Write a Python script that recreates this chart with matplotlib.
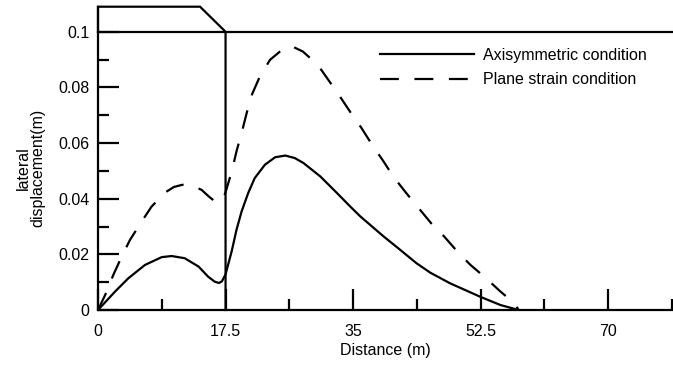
import matplotlib
matplotlib.use("Agg")
import matplotlib.pyplot as plt
from matplotlib.ticker import MultipleLocator

plt.rcParams['font.family'] = ['Liberation Sans', 'DejaVu Sans']

# Axisymmetric condition (solid)
axi_x = [0, 2.33, 4.16, 6.45, 8.74, 10.1, 11.9, 13.8, 15.1, 16.0, 16.6, 17.0, 17.5, 18.35, 19.0, 19.7, 20.6, 21.5, 22.9, 24.3, 25.7, 27.0, 28.2, 30.5, 32.8, 34.6, 36.0, 39.2, 41.0, 43.7, 45.6, 48.3, 52.4, 55.2, 57.7]
axi_y = [0, 0.0066, 0.0114, 0.0162, 0.0190, 0.0194, 0.0186, 0.0156, 0.0120, 0.0102, 0.0097, 0.0103, 0.0128, 0.0212, 0.0288, 0.0354, 0.0420, 0.0474, 0.0522, 0.0549, 0.0555, 0.0546, 0.0528, 0.0480, 0.0420, 0.0372, 0.0336, 0.0264, 0.0226, 0.0168, 0.0134, 0.0096, 0.0048, 0.0018, 0]

# Plane strain condition (dashed)
ps_x = [0, 1.0, 2.1, 3.25, 4.39, 5.99, 7.36, 9.2, 10.4, 11.57, 12.9, 14.2, 15.2, 16.05, 16.7, 17.2, 17.6, 18.35, 19.0, 19.7, 20.4, 21.1, 22.2, 23.6, 25.7, 26.9, 28.1, 30.15, 31.6, 33.2, 34.7, 36.1, 37.6, 39.2, 40.5, 42.3, 44.0, 45.7, 47.5, 49.3, 51.1, 53.25, 55.1, 57.2, 57.7]
ps_y = [0, 0.0055, 0.0126, 0.0192, 0.0252, 0.0318, 0.0372, 0.0422, 0.0442, 0.0450, 0.0447, 0.0432, 0.0408, 0.0390, 0.0389, 0.0400, 0.0432, 0.0498, 0.0570, 0.0636, 0.0708, 0.0773, 0.0839, 0.0899, 0.0945, 0.0944, 0.0929, 0.0881, 0.0827, 0.0767, 0.0708, 0.0656, 0.0594, 0.0533, 0.0480, 0.0420, 0.0366, 0.0312, 0.0264, 0.0210, 0.0162, 0.0114, 0.0069, 0.0022, 0]

# Embankment / ground outline
emb_x = [0, 0, 14, 17.5, 17.5]
emb_y = [0.1, 0.109, 0.109, 0.1, 0]
ground_x = [0, 78.75]
ground_y = [0.1, 0.1]

xticks = [0, 17.5, 35, 52.5, 70]
xticklabels = ['0', '17.5', '35', '52.5', '70']
yticks = [0, 0.02, 0.04, 0.06, 0.08, 0.1]
yticklabels = ['0', '0.02', '0.04', '0.06', '0.08', '0.1']

fs = 11.5
fig = plt.figure(figsize=(6.73, 3.67), dpi=100)
ax = fig.add_axes([98/673, 1 - 310/367, (672 - 98)/673, (310 - 6.7)/367])

lw = 1.6
ax.plot(axi_x, axi_y, color='black', lw=lw, label='Axisymmetric condition')
ax.plot(ps_x, ps_y, color='black', lw=lw, linestyle=(0, (8.5, 7)), label='Plane strain condition')
ax.plot(emb_x, emb_y, color='black', lw=lw, clip_on=False, solid_joinstyle='miter')
ax.plot(ground_x, ground_y, color='black', lw=lw, clip_on=False)

ax.set_xlim(0, 78.75)
ax.set_ylim(0, 0.109)
ax.set_xticks(xticks)
ax.set_xticklabels(xticklabels)
ax.set_yticks(yticks)
ax.set_yticklabels(yticklabels)
ax.xaxis.set_minor_locator(MultipleLocator(8.75))
ax.yaxis.set_minor_locator(MultipleLocator(0.01))

for side in ['top', 'right']:
    ax.spines[side].set_visible(False)
for side in ['left', 'bottom']:
    ax.spines[side].set_linewidth(1.6)

ax.tick_params(which='major', direction='in', length=15, width=1.6, labelsize=fs, pad=6)
ax.tick_params(which='minor', direction='in', length=8, width=1.6)
ax.tick_params(axis='x', which='major', pad=10)

ax.set_xlabel('Distance (m)', fontsize=fs, labelpad=3)
fig.text(30.5/673, 1 - 168/367, 'lateral\ndisplacement(m)', rotation=90,
         ha='center', va='center', multialignment='center', fontsize=fs, linespacing=1.0)

leg = ax.legend(loc='upper left', bbox_to_anchor=((380 - 98)/574, 1 - 41/303.3),
                frameon=False, fontsize=fs, handlelength=5.9, handletextpad=0.56,
                labelspacing=0.6, borderaxespad=0, borderpad=0)

fig.savefig('out.png', dpi=100)
